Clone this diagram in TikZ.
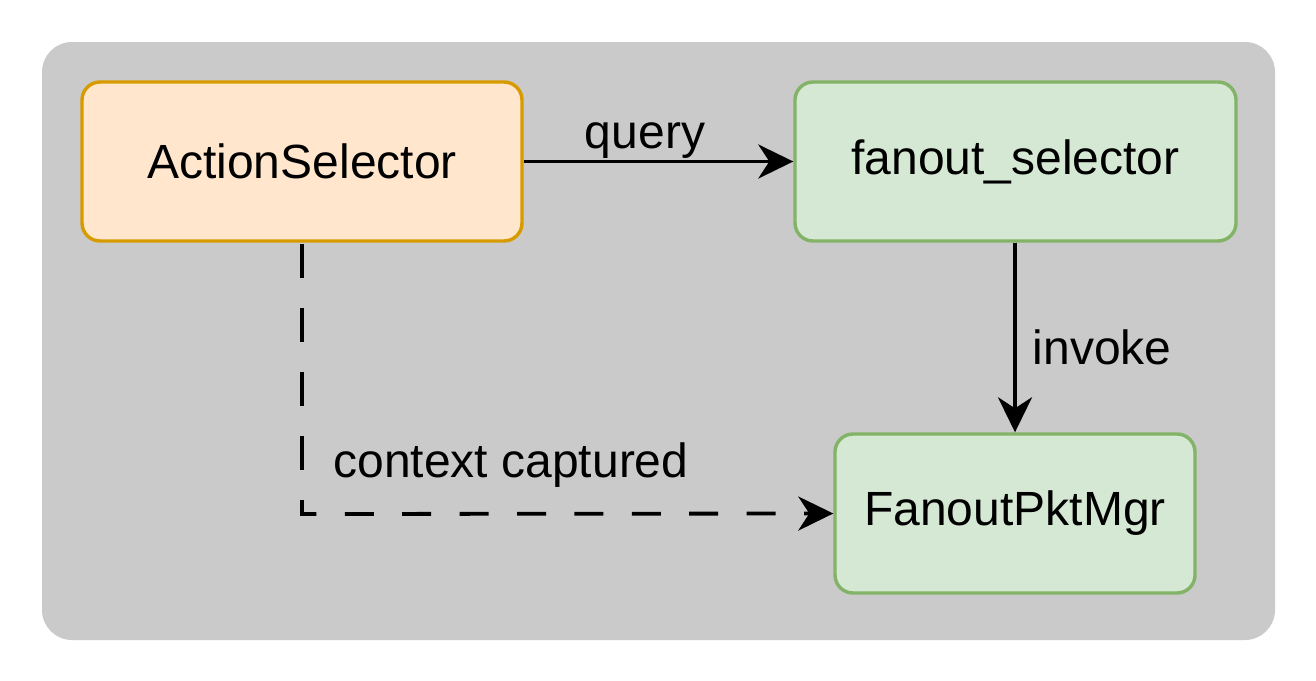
\documentclass[tikz,border=0pt]{standalone}
\usepackage{fontspec}
\setmainfont{Liberation Sans}
\usetikzlibrary{arrows.meta}
\definecolor{bggray}{HTML}{CACACA}
\definecolor{orfill}{HTML}{FFE6CC}
\definecolor{ordraw}{HTML}{D79B00}
\definecolor{grfill}{HTML}{D5E8D4}
\definecolor{grdraw}{HTML}{82B366}
\tikzset{
  px/.style={x=0.5pt,y=-0.5pt},
  box/.style={rectangle, rounded corners=9pt, line width=1.7pt, inner sep=0pt, font=\fontsize{24pt}{28pt}\selectfont},
  orbox/.style={box, fill=orfill, draw=ordraw, minimum width=220pt, minimum height=79.5pt},
  grbox/.style={box, fill=grfill, draw=grdraw},
  conn/.style={line width=1.9pt, -{Stealth[length=17.5pt,width=17pt,inset=5.5pt]}},
  dashv/.style={line width=1.9pt, dash pattern=on 15pt off 17pt, line cap=rect},
  dashh/.style={conn, dash pattern=on 14.5pt off 14.2pt, dash phase=7.3pt},
  lbl/.style={font=\fontsize{24pt}{28pt}\selectfont, inner sep=0pt}
}
\begin{document}
\begin{tikzpicture}[px]
\useasboundingbox (0,0) rectangle (1316,680);
\fill[bggray, rounded corners=15pt] (42,42) rectangle (1275,640);
\node[orbox] (as) at (302,161.5) {ActionSelector};
\node[grbox, minimum width=220.5pt, minimum height=79.5pt] (fs) at (1015.5,161.5) {fanout\_selector};
\node[grbox, minimum width=180pt, minimum height=79.5pt] (fm) at (1015,513.5) {FanoutPktMgr};
\coordinate (corner) at (302,514);
\draw[conn] (as.east) -- (fs.west) node[lbl, pos=0.45, above=0.5pt] (lq) {query};
\draw[conn] (fs.south -| fm.north) -- (fm.north) node[lbl, pos=0.55, right=8pt] (li) {invoke};
\draw[dashv] ([yshift=-1.5pt]as.south) -- (corner);
\draw[dashh] (corner) -- (fm.west);
\node[lbl] (lc) at (511,465) {context captured};
\end{tikzpicture}
\end{document}
